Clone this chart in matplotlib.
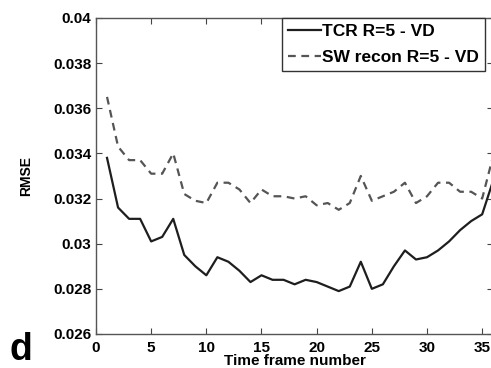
import matplotlib
matplotlib.use("Agg")
import matplotlib.pyplot as plt
import numpy as np

frames = list(range(1, 37))
tcr = [0.0338, 0.0316, 0.0311, 0.0311, 0.0301, 0.0303, 0.0311, 0.0295, 0.0290, 0.0286,
       0.0294, 0.0292, 0.0288, 0.0283, 0.0286, 0.0284, 0.0284, 0.0282, 0.0284, 0.0283,
       0.0281, 0.0279, 0.0281, 0.0292, 0.0280, 0.0282, 0.0290, 0.0297, 0.0293, 0.0294,
       0.0297, 0.0301, 0.0306, 0.0310, 0.0313, 0.0328]
sw = [0.0365, 0.0343, 0.0337, 0.0337, 0.0331, 0.0331, 0.0340, 0.0322, 0.0319, 0.0318,
      0.0327, 0.0327, 0.0324, 0.0318, 0.0324, 0.0321, 0.0321, 0.0320, 0.0321, 0.0317,
      0.0318, 0.0315, 0.0318, 0.0330, 0.0319, 0.0321, 0.0323, 0.0327, 0.0318, 0.0321,
      0.0327, 0.0327, 0.0323, 0.0323, 0.0320, 0.0339]
xticks = [0, 5, 10, 15, 20, 25, 30, 35]
yticks = [0.026, 0.028, 0.03, 0.032, 0.034, 0.036, 0.038, 0.04]
ytick_labels = ["0.026", "0.028", "0.03", "0.032", "0.034", "0.036", "0.038", "0.04"]

plt.rcParams['font.family'] = ['Liberation Sans', 'DejaVu Sans']
plt.rcParams['font.weight'] = 'bold'

fig = plt.figure(figsize=(4.91, 3.68), dpi=100)
ax = fig.add_axes([0.1955, 0.0924, 0.809, 0.859])
ax.plot(frames, tcr, color='#1e1e1e', lw=1.6, label='TCR R=5 - VD')
ax.plot(frames, sw, color='#555555', lw=1.6, ls=(0, (3.5, 2.5)), label='SW recon R=5 - VD')
ax.set_xlim(0, 36)
ax.set_ylim(0.026, 0.04)
ax.set_xticks(xticks)
ax.set_yticks(yticks)
ax.set_yticklabels(ytick_labels)
ax.tick_params(direction='in', top=True, right=True, labelsize=11, length=4, width=0.8,
               colors='#444444', labelcolor='black')
ax.tick_params(axis='x', pad=5)
for lab in ax.get_xticklabels() + ax.get_yticklabels():
    lab.set_fontweight('bold')
for s in ax.spines.values():
    s.set_color('#555555')
    s.set_linewidth(1.0)
ax.set_xlabel('Time frame number', fontsize=11, fontweight='bold', labelpad=-0.5)
ax.set_ylabel('RMSE', fontsize=10, fontweight='bold', labelpad=14)
leg = ax.legend(loc='upper right', bbox_to_anchor=(0.98, 1.0), frameon=True, fancybox=False,
                borderaxespad=0.0, handlelength=1.9, handletextpad=0.1,
                borderpad=0.35, labelspacing=0.6, prop={'weight': 'bold', 'size': 12.5})
leg.get_frame().set_edgecolor('#333333')
leg.get_frame().set_linewidth(1.0)
leg.get_frame().set_alpha(1.0)
fig.text(0.02, 0.022, 'd', fontsize=27, fontweight='bold')
fig.savefig('out.png', dpi=100)
